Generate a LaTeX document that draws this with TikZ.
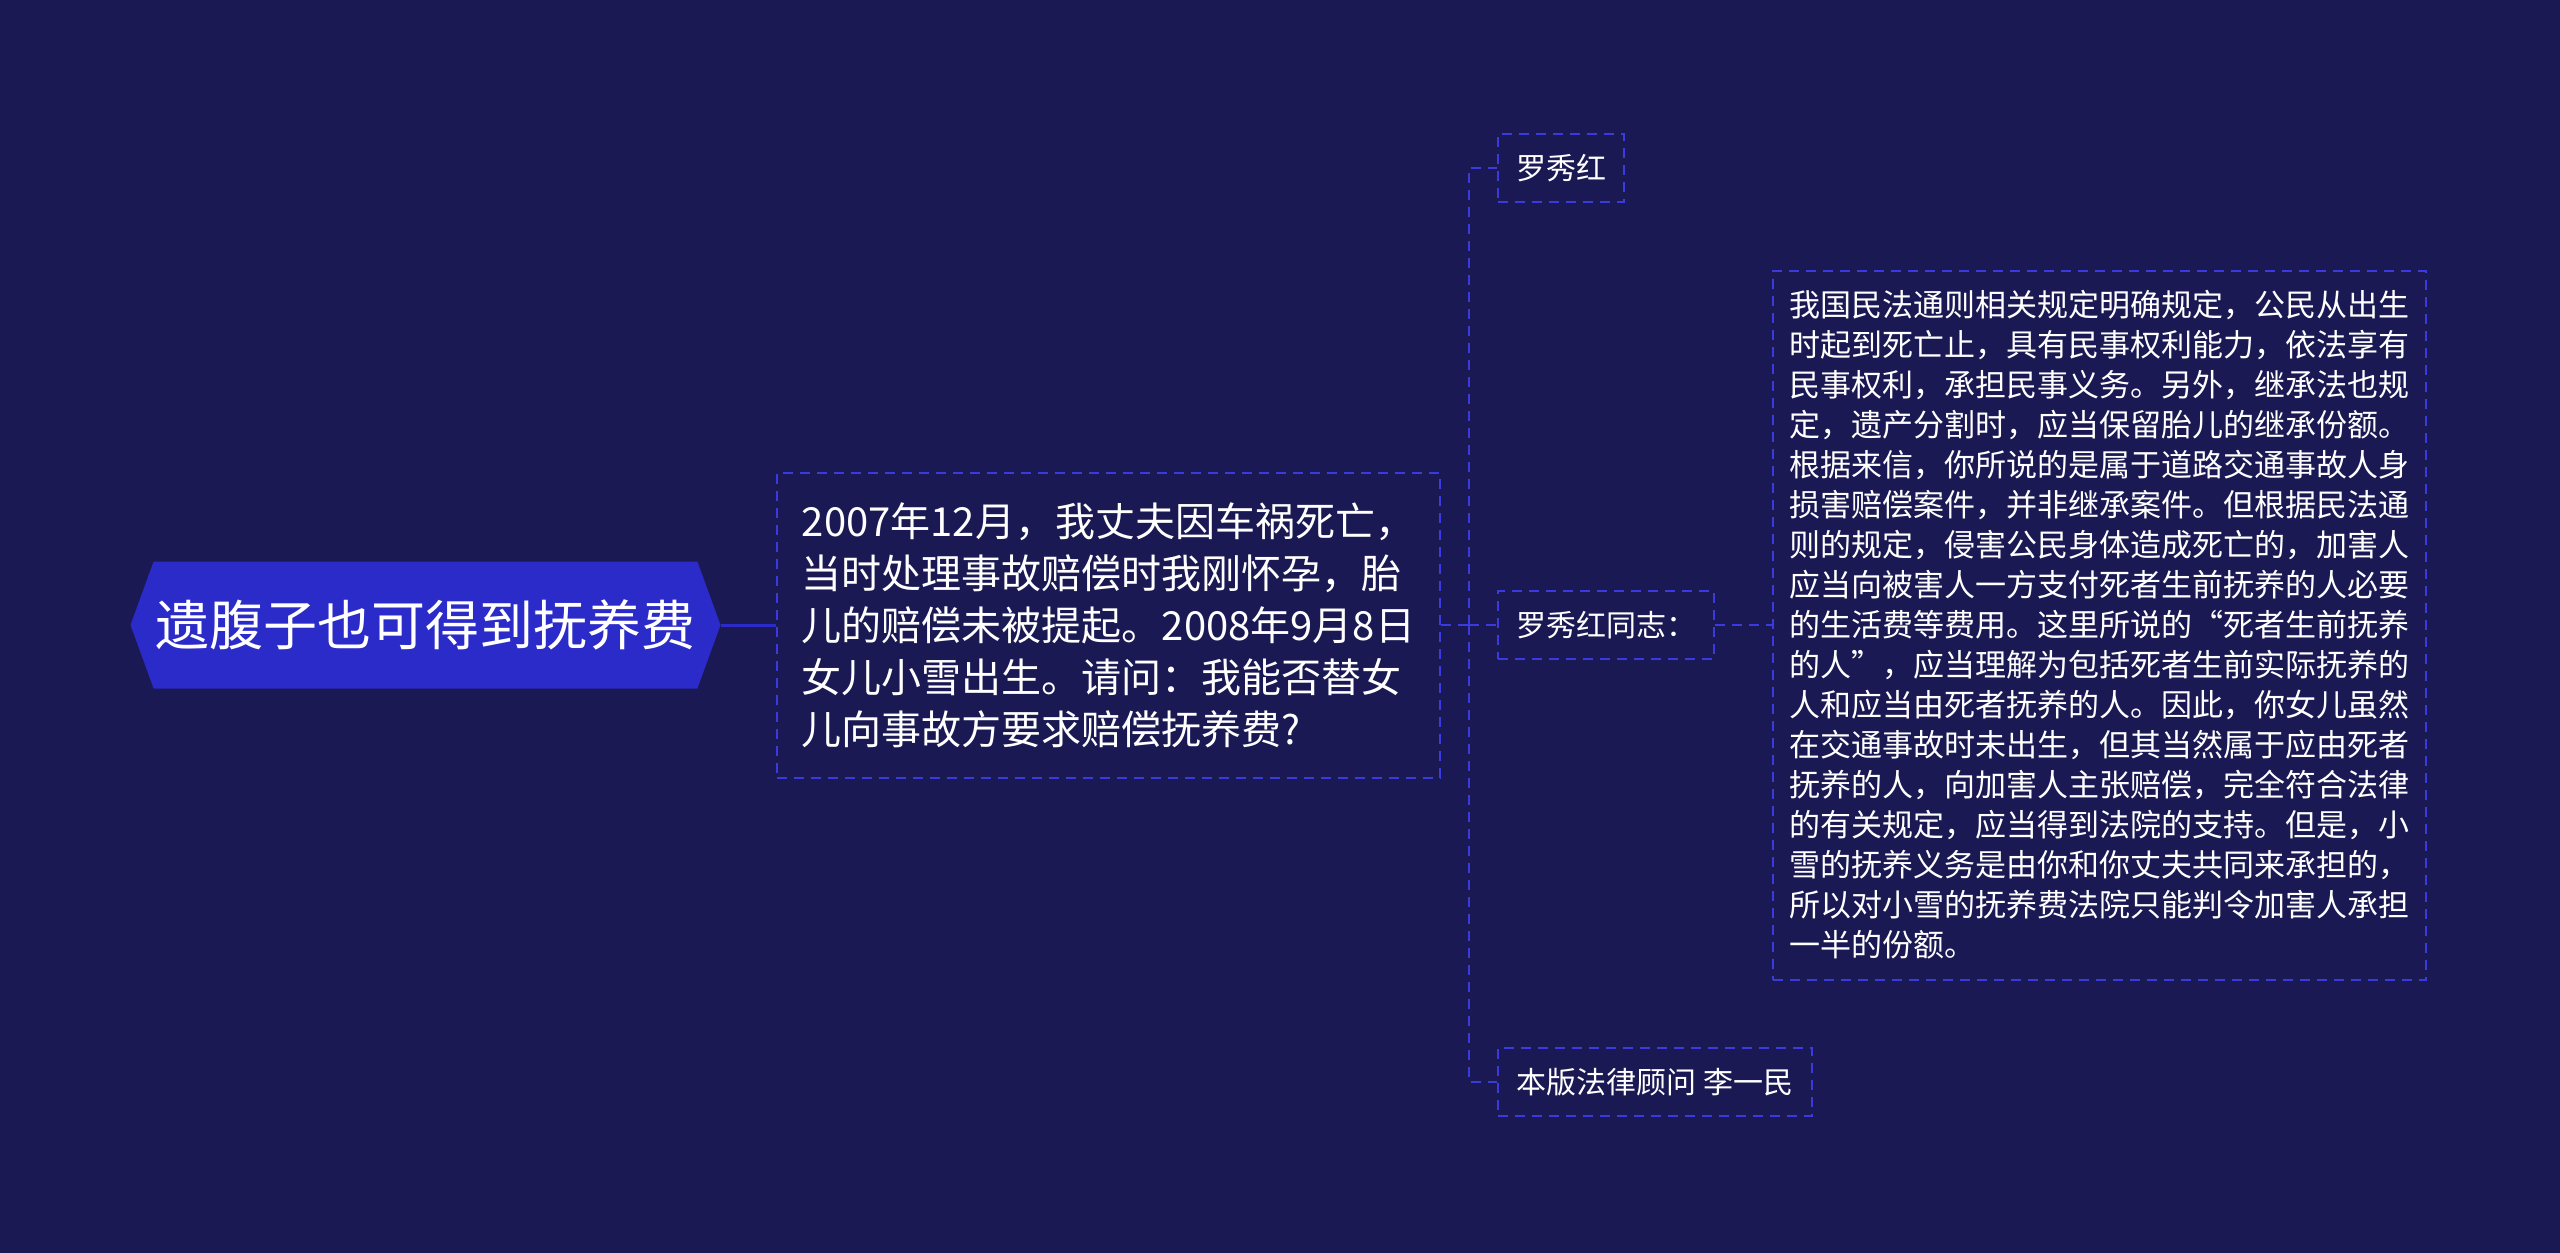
\documentclass[tikz,border=0pt]{standalone}
\usepackage{fontspec}
\newfontfamily\cjk{Noto Sans CJK SC}
\usepackage{xcolor}
\usetikzlibrary{shapes.symbols, positioning}
\definecolor{bgcol}{RGB}{27,25,84}
\definecolor{rootfill}{RGB}{43,43,201}
\definecolor{dashcol}{RGB}{58,58,222}

\begin{document}
\begin{tikzpicture}[
        x=0.5pt, y=-0.5pt,
        font=\cjk,
        % Styles for nodes
        rootnode/.style={
            signal, signal to=west and east, signal pointer angle=140,
            fill=rootfill, text=white, inner xsep=0pt,
            minimum width=295pt, minimum height=63.5pt,
            font=\cjk\fontsize{27}{31}\selectfont
        },
        question/.style={
            rectangle, draw=dashcol, line width=1pt, dash pattern=on 5pt off 3.5pt,
            text=white, align=left,
            minimum width=331.5pt, minimum height=152.5pt,
            font=\cjk\fontsize{20}{26}\selectfont
        },
        leaf/.style={
            rectangle, draw=dashcol, line width=1pt, dash pattern=on 5pt off 3.5pt,
            text=white, inner xsep=9pt, minimum height=34pt,
            font=\cjk\fontsize{15}{18}\selectfont
        },
        answer/.style={
            rectangle, draw=dashcol, line width=1pt, dash pattern=on 5pt off 3.5pt,
            text=white, align=left,
            minimum width=326.5pt, minimum height=354.5pt,
            font=\cjk\fontsize{15.5}{20}\selectfont
        },
        % Styles for connecting lines
        trunk/.style={draw=rootfill, line width=1.5pt},
        link/.style={draw=dashcol, line width=1pt, dash pattern=on 5pt off 3.5pt}
    ]

    % 0. BACKGROUND
    \fill[bgcol] (0,0) rectangle (2560,1253);
    \useasboundingbox (0,0) rectangle (2560,1253);

    % 1. ROOT & QUESTION
    \node[rootnode] (root) at (425.5,625) {遗腹子也可得到抚养费};
    \node[question] (ques) at (1108.5,625) {2007年12月，我丈夫因车祸死亡，\\
        当时处理事故赔偿时我刚怀孕，胎\\
        儿的赔偿未被提起。2008年9月8日\\
        女儿小雪出生。请问：我能否替女\\
        儿向事故方要求赔偿抚养费?};

    % 2. CHILDREN
    \node[leaf, anchor=west] (name)    at (1497,168)  {罗秀红};
    \node[leaf, anchor=west] (comrade) at (1497,625)  {罗秀红同志：};
    \node[leaf, anchor=west] (advisor) at (1497,1082) {本版法律顾问\hspace{4pt}李一民};

    % 3. ANSWER
    \node[answer] (reply) at (2099.5,625) {我国民法通则相关规定明确规定，公民从出生\\
        时起到死亡止，具有民事权利能力，依法享有\\
        民事权利，承担民事义务。另外，继承法也规\\
        定，遗产分割时，应当保留胎儿的继承份额。\\
        根据来信，你所说的是属于道路交通事故人身\\
        损害赔偿案件，并非继承案件。但根据民法通\\
        则的规定，侵害公民身体造成死亡的，加害人\\
        应当向被害人一方支付死者生前抚养的人必要\\
        的生活费等费用。这里所说的“死者生前抚养\\
        的人”，应当理解为包括死者生前实际抚养的\\
        人和应当由死者抚养的人。因此，你女儿虽然\\
        在交通事故时未出生，但其当然属于应由死者\\
        抚养的人，向加害人主张赔偿，完全符合法律\\
        的有关规定，应当得到法院的支持。但是，小\\
        雪的抚养义务是由你和你丈夫共同来承担的，\\
        所以对小雪的抚养费法院只能判令加害人承担\\
        一半的份额。};

    % 4. CONNECTORS
    \coordinate (spine) at (1469,625);
    \draw[trunk] (root.east) -- (ques.west);
    \draw[link] (ques.east) -- (spine);
    \draw[link] (spine) |- (name.west);
    \draw[link] (spine) -- (comrade.west);
    \draw[link] (spine) |- (advisor.west);
    \draw[link] (comrade.east) -- (reply.west);

\end{tikzpicture}
\end{document}
